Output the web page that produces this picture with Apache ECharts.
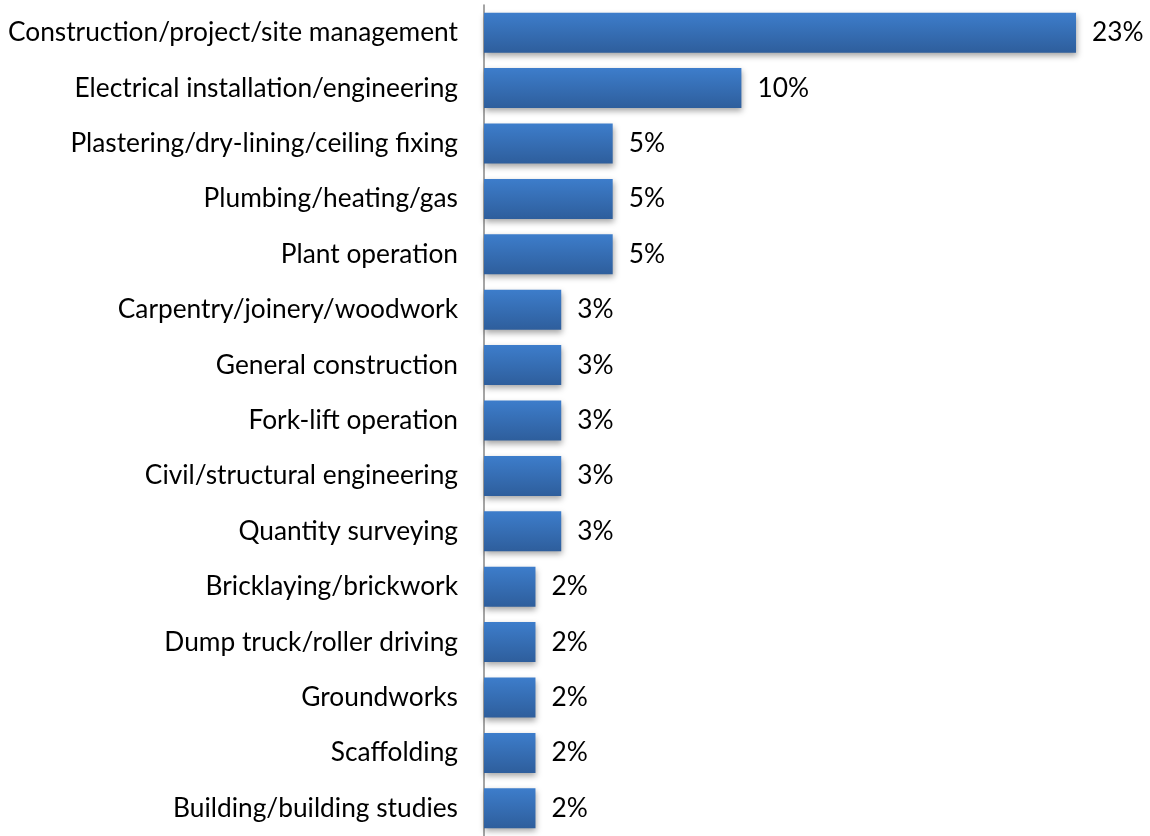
<!DOCTYPE html>
<html>
<head>
<meta charset="utf-8">
<style>
html,body{margin:0;padding:0;background:#fff;}
#chart{width:1150px;height:836px;}
</style>
<script src="https://cdn.jsdelivr.net/npm/echarts@6/dist/echarts.min.js"></script>
</head>
<body>
<div id="chart"></div>
<script>
const categories = [
  "Construction/project/site management",
  "Electrical installation/engineering",
  "Plastering/dry-lining/ceiling fixing",
  "Plumbing/heating/gas",
  "Plant operation",
  "Carpentry/joinery/woodwork",
  "General construction",
  "Fork-lift operation",
  "Civil/structural engineering",
  "Quantity surveying",
  "Bricklaying/brickwork",
  "Dump truck/roller driving",
  "Groundworks",
  "Scaffolding",
  "Building/building studies"
];
const values = [23, 10, 5, 5, 5, 3, 3, 3, 3, 3, 2, 2, 2, 2, 2];
const valueLabels = ["23%", "10%", "5%", "5%", "5%", "3%", "3%", "3%", "3%", "3%", "2%", "2%", "2%", "2%", "2%"];

const FONT = 'Lato';
const chart = echarts.init(document.getElementById('chart'));
chart.setOption({
  animation: false,
  grid: { left: 484, top: 5, height: 836, right: 22.5, containLabel: false },
  xAxis: {
    type: 'value', min: 0, max: 25,
    show: false
  },
  yAxis: {
    type: 'category',
    data: categories,
    inverse: true,
    axisLine: { show: true, lineStyle: { color: '#878787', width: 1.5 } },
    axisTick: { show: false },
    axisLabel: { color: '#000', fontFamily: FONT, fontSize: 26.3, margin: 26, padding: [4, 0, 0, 0] }
  },
  series: [{
    type: 'bar',
    data: values,
    barWidth: 40,
    itemStyle: {
      color: new echarts.graphic.LinearGradient(0, 0, 0, 1, [
        { offset: 0, color: '#3d7dcb' },
        { offset: 1, color: '#2e5e9c' }
      ]),
      shadowColor: 'rgba(0,0,0,0.35)',
      shadowBlur: 6,
      shadowOffsetY: 3,
      shadowOffsetX: 1
    },
    label: {
      show: true, position: 'right', distance: 16,
      color: '#000', fontFamily: FONT, fontSize: 26.3,
      padding: [4, 0, 0, 0],
      formatter: p => valueLabels[p.dataIndex]
    }
  }]
});
</script>
</body>
</html>
